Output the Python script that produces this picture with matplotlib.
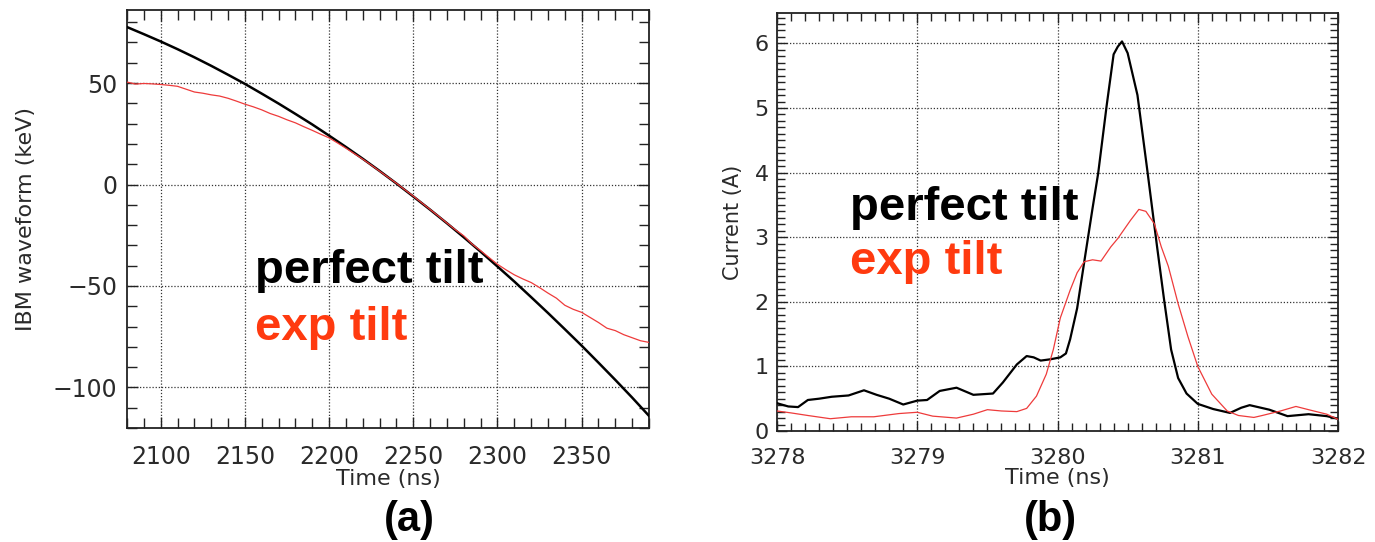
import matplotlib
matplotlib.use("Agg")
import matplotlib.pyplot as plt
from matplotlib.ticker import MultipleLocator, FormatStrFormatter

# (a) IBM waveform vs time
t_a = [2080, 2090, 2100, 2110, 2120, 2130, 2140, 2150, 2160, 2170, 2180,
       2190, 2200, 2210, 2220, 2230, 2240, 2250, 2260, 2270, 2280, 2290,
       2300, 2310, 2320, 2330, 2340, 2350, 2360, 2370, 2380, 2390]
perfect_a = [77.6, 74.1, 70.5, 66.7, 62.7, 58.5, 54.1, 49.6, 44.8, 39.9, 34.8,
             29.6, 24.1, 18.5, 12.7, 6.7, 0.5, -5.9, -12.4, -19.1, -26.0, -33.1,
             -40.4, -47.8, -55.5, -63.3, -71.3, -79.4, -87.8, -96.3, -105.0, -114.0]

t_a_exp = [2080, 2085, 2090, 2095, 2100, 2105, 2110, 2115, 2120, 2125, 2130,
           2135, 2140, 2145, 2150, 2155, 2160, 2165, 2170, 2175, 2180, 2185,
           2190, 2195, 2200, 2205, 2210, 2215, 2220, 2225, 2230, 2235, 2240,
           2245, 2250, 2255, 2260, 2265, 2270, 2275, 2280, 2285, 2290, 2295,
           2300, 2305, 2310, 2315, 2320, 2325, 2330, 2335, 2340, 2345, 2350,
           2355, 2360, 2365, 2370, 2375, 2380, 2385, 2390]
exp_a = [50.5, 49.5, 49.8, 49.6, 49.3, 48.9, 48.4, 47.0, 45.6, 45.0, 44.2,
         43.6, 42.5, 41.1, 39.6, 38.3, 36.8, 35.0, 33.6, 31.9, 30.4, 28.5,
         26.7, 24.8, 23.0, 20.5, 17.9, 15.2, 12.5, 9.6, 6.6, 3.6, 0.6,
         -2.6, -5.7, -9.0, -12.3, -15.6, -19.0, -22.3, -25.3, -29.4, -32.6, -36.0,
         -39.3, -42.0, -44.5, -46.5, -48.3, -50.8, -53.5, -56.0, -59.5, -61.5, -63.0,
         -65.5, -68.0, -70.8, -72.0, -74.0, -75.5, -77.0, -77.8]

# (b) current vs time
t_b = [3278.00, 3278.08, 3278.15, 3278.22, 3278.30, 3278.39, 3278.51, 3278.62,
       3278.71, 3278.80, 3278.90, 3279.00, 3279.07, 3279.16, 3279.28, 3279.40,
       3279.54, 3279.61, 3279.71, 3279.78, 3279.83, 3279.88, 3279.95, 3280.02,
       3280.06, 3280.09, 3280.14, 3280.20, 3280.25, 3280.29, 3280.35, 3280.40,
       3280.43, 3280.46, 3280.50, 3280.57, 3280.64, 3280.71, 3280.76, 3280.81,
       3280.86, 3280.92, 3281.00, 3281.11, 3281.23, 3281.31, 3281.37, 3281.51,
       3281.64, 3281.79, 3281.92, 3282.00]
perfect_b = [0.43, 0.38, 0.37, 0.48, 0.50, 0.53, 0.55, 0.63,
             0.56, 0.50, 0.41, 0.47, 0.48, 0.62, 0.67, 0.56,
             0.58, 0.75, 1.03, 1.16, 1.14, 1.09, 1.11, 1.14,
             1.20, 1.42, 1.90, 2.75, 3.45, 3.99, 5.03, 5.83,
             5.95, 6.03, 5.85, 5.20, 4.04, 2.85, 2.03, 1.26,
             0.82, 0.58, 0.42, 0.34, 0.28, 0.36, 0.40, 0.33,
             0.23, 0.26, 0.23, 0.19]

t_b_exp = [3278.00, 3278.10, 3278.22, 3278.38, 3278.53, 3278.69, 3278.87, 3279.00,
           3279.11, 3279.28, 3279.40, 3279.50, 3279.60, 3279.71, 3279.78, 3279.85,
           3279.92, 3279.97, 3280.02, 3280.09, 3280.14, 3280.19, 3280.25, 3280.31,
           3280.38, 3280.43, 3280.52, 3280.58, 3280.63, 3280.69, 3280.74, 3280.79,
           3280.86, 3280.93, 3281.00, 3281.10, 3281.21, 3281.29, 3281.40, 3281.46,
           3281.59, 3281.70, 3281.79, 3281.92, 3282.00]
exp_b = [0.31, 0.28, 0.24, 0.19, 0.22, 0.22, 0.27, 0.29,
         0.23, 0.20, 0.26, 0.33, 0.31, 0.30, 0.35, 0.54,
         0.88, 1.26, 1.75, 2.18, 2.45, 2.62, 2.65, 2.63,
         2.85, 2.98, 3.26, 3.43, 3.40, 3.21, 2.85, 2.55,
         1.97, 1.46, 1.00, 0.57, 0.31, 0.24, 0.21, 0.24,
         0.31, 0.38, 0.33, 0.26, 0.18]

RED_LINE = "#ee3b3b"
RED_TEXT = "#ff3a0f"
LABEL_GRAY = "#2a2a2a"
grid_style = dict(color="#333333", linestyle=(0, (1, 1.5)), linewidth=0.9)

fig = plt.figure(figsize=(13.75, 5.42), dpi=100)
ax1 = fig.add_axes([0.0924, 0.2103, 0.3796, 0.7712])
ax2 = fig.add_axes([0.5651, 0.2048, 0.408, 0.7712])


def style_axis(ax, size):
    ax.tick_params(which="both", direction="in", top=True, right=True,
                   colors="#222222", labelcolor=LABEL_GRAY, width=1.0)
    ax.tick_params(which="major", length=8, labelsize=size)
    ax.tick_params(which="minor", length=7)
    for s in ax.spines.values():
        s.set_linewidth(1.3)
        s.set_color("#222222")
    ax.grid(True, which="major", **grid_style)
    ax.set_axisbelow(False)


# left plot
ax1.plot(t_a, perfect_a, color="black", lw=1.8, zorder=3)
ax1.plot(t_a_exp, exp_a, color=RED_LINE, lw=0.9, zorder=4)
ax1.set_xlim(2080, 2390)
ax1.set_ylim(-120, 86)
ax1.xaxis.set_major_locator(MultipleLocator(50))
ax1.xaxis.set_minor_locator(MultipleLocator(10))
ax1.yaxis.set_major_locator(MultipleLocator(50))
ax1.yaxis.set_minor_locator(MultipleLocator(10))
ax1.set_yticks([-100, -50, 0, 50])
ax1.set_yticklabels(["\u2212100", "\u221250", "0", "50"])
style_axis(ax1, 17)
ax1.tick_params(axis="x", pad=12)
ax1.tick_params(axis="y", pad=7)
ax1.set_xlabel("Time (ns)", fontsize=16, color=LABEL_GRAY, labelpad=0)
ax1.set_ylabel("IBM waveform (keV)", fontsize=16, color=LABEL_GRAY,
               labelpad=12)
ax1.text(0.245, 0.375, "perfect tilt", transform=ax1.transAxes, fontsize=34,
         fontweight="bold", family="Liberation Sans", color="black",
         va="center", ha="left", zorder=5)
ax1.text(0.245, 0.24, "exp tilt", transform=ax1.transAxes, fontsize=34,
         fontweight="bold", family="Liberation Sans", color=RED_TEXT,
         va="center", ha="left", zorder=5)

# right plot
ax2.plot(t_b, perfect_b, color="black", lw=1.6, zorder=3)
ax2.plot(t_b_exp, exp_b, color=RED_LINE, lw=0.9, zorder=4)
ax2.set_xlim(3278, 3282)
ax2.set_ylim(0, 6.47)
ax2.xaxis.set_major_locator(MultipleLocator(1))
ax2.xaxis.set_minor_locator(MultipleLocator(0.1))
ax2.yaxis.set_major_locator(MultipleLocator(1))
ax2.yaxis.set_minor_locator(MultipleLocator(0.1))
ax2.xaxis.set_major_formatter(FormatStrFormatter("%d"))
style_axis(ax2, 16)
ax2.tick_params(which="major", length=7)
ax2.tick_params(which="minor", length=6)
ax2.tick_params(axis="x", pad=12)
ax2.tick_params(axis="y", pad=6)
ax2.set_xlabel("Time (ns)", fontsize=16, color=LABEL_GRAY, labelpad=0)
ax2.set_ylabel("Current (A)", fontsize=15, color=LABEL_GRAY, labelpad=8)
ax2.text(0.13, 0.534, "perfect tilt", transform=ax2.transAxes, fontsize=34,
         fontweight="bold", family="Liberation Sans", color="black",
         va="center", ha="left", zorder=5)
ax2.text(0.13, 0.405, "exp tilt", transform=ax2.transAxes, fontsize=34,
         fontweight="bold", family="Liberation Sans", color=RED_TEXT,
         va="center", ha="left", zorder=5)

# panel tags
fig.text(0.2975, 0.04, "(a)", fontsize=30, fontweight="bold",
         family="Liberation Sans", ha="center", va="center")
fig.text(0.7636, 0.04, "(b)", fontsize=30, fontweight="bold",
         family="Liberation Sans", ha="center", va="center")

fig.savefig("out.png", dpi=100, facecolor="white")
